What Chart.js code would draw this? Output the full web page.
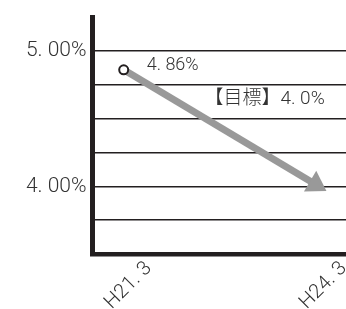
<!DOCTYPE html>
<html>
<head>
<meta charset="utf-8">
<script src="https://cdn.jsdelivr.net/npm/chart.js@4.4.1/dist/chart.umd.min.js"></script>
<style>
  html, body { margin: 0; padding: 0; background: #fff; }
  #wrap { width: 346px; height: 309px; }
</style>
</head>
<body>
<div id="wrap"><canvas id="rateChart" width="346" height="309"></canvas></div>
<script>
// --- chart data ---
const categories = ['H21. 3', 'H24. 3'];
const rateValues = [4.86, 4.0];
const pointLabels = ['4. 86%', '【目標】4. 0%'];
const yTickValues = [4.0, 5.0];
const yTickLabels = ['4. 00%', '5. 00%'];

const FONT = 'Roboto, "Noto Sans CJK JP", sans-serif';
const INK = '#231f20';
const ARROW = '#999999';

/*
 * Draws the value labels and the arrow head at the end of the line.
 */
const arrowPlugin = {
    id: 'arrowAndLabels',
    afterDatasetsDraw(chart) {
        const meta = chart.getDatasetMeta(0);
        const p0 = meta.data[0];
        const p1 = meta.data[meta.data.length - 1];
        const ctx = chart.ctx;

        // arrow head, pointing along the line
        const dx = p1.x - p0.x, dy = p1.y - p0.y;
        const len = Math.sqrt(dx * dx + dy * dy);
        const ux = dx / len, uy = dy / len;
        const tipX = p1.x + ux * 9, tipY = p1.y + uy * 9;
        const bx = tipX - ux * 19, by = tipY - uy * 19;
        ctx.save();
        ctx.fillStyle = ARROW;
        ctx.beginPath();
        ctx.moveTo(tipX, tipY);
        ctx.lineTo(bx + uy * 12, by - ux * 12);
        ctx.lineTo(bx - uy * 12, by + ux * 12);
        ctx.closePath();
        ctx.fill();

        // point labels
        ctx.fillStyle = '#333';
        ctx.font = '300 18px ' + FONT;
        ctx.textBaseline = 'middle';
        ctx.textAlign = 'left';
        ctx.fillText(pointLabels[0], p0.x + 23, p0.y - 4);
        ctx.font = '300 19px ' + FONT;
        ctx.textAlign = 'right';
        ctx.fillText(pointLabels[1], p1.x + 6, p1.y - 87);
        ctx.restore();
    }
};

const canvas = document.getElementById('rateChart');
new Chart(canvas.getContext('2d'), {
    type: 'line',
    data: {
        datasets: [{
            data: rateValues.map((v, i) => ({ x: i, y: v })),
            borderColor: ARROW,
            borderWidth: 7,
            borderCapStyle: 'butt',
            pointRadius: [4.5, 0],
            pointBorderWidth: 2,
            pointBorderColor: INK,
            pointBackgroundColor: '#fff',
            tension: 0
        }]
    },
    options: {
        responsive: false,
        animation: false,
        events: [],
        layout: { autoPadding: false, padding: { top: 17, right: 0, left: 0, bottom: 0 } },
        plugins: {
            legend: { display: false },
            tooltip: { enabled: false },
            title: { display: false }
        },
        scales: {
            x: {
                type: 'linear',
                min: -0.16,
                max: 1.14,
                afterBuildTicks: (scale) => { scale.ticks = categories.map((c, i) => ({ value: i })); },
                afterFit: (scale) => {
                    scale.height = 55;
                    scale.paddingLeft = 0;
                    scale.paddingRight = 0;
                },
                grid: { display: false, drawTicks: false },
                border: { display: true, color: INK, width: 4.5 },
                ticks: {
                    minRotation: 45,
                    maxRotation: 45,
                    labelOffset: 25,
                    padding: 3,
                    color: '#333',
                    font: { family: FONT, size: 20, weight: '300' },
                    callback: (v) => categories[v] || ''
                }
            },
            y: {
                min: 3.5,
                max: 5.25,
                afterFit: (scale) => {
                    scale.width = 92.5;
                    scale.paddingTop = 0;
                    scale.paddingBottom = 0;
                },
                grid: {
                    drawTicks: false,
                    lineWidth: 1.5,
                    color: (c) => (c.tick && (c.tick.value <= 3.5 || c.tick.value >= 5.25)) ? 'rgba(0,0,0,0)' : INK
                },
                border: { display: true, color: INK, width: 5 },
                ticks: {
                    stepSize: 0.25,
                    padding: 6,
                    color: '#333',
                    font: { family: FONT, size: 21, weight: '300' },
                    callback: (v) => {
                        const idx = yTickValues.findIndex(t => Math.abs(t - v) < 1e-6);
                        return idx >= 0 ? yTickLabels[idx] : '';
                    }
                }
            }
        }
    },
    plugins: [arrowPlugin]
});
</script>
</body>
</html>
